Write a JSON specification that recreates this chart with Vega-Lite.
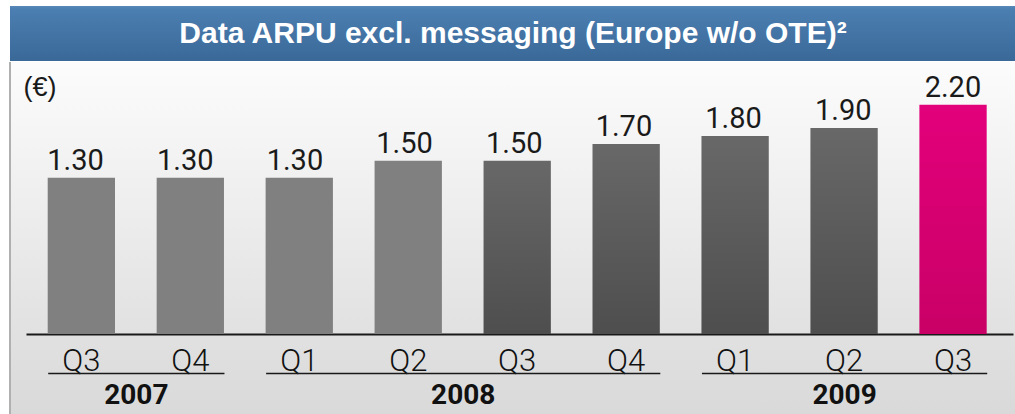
{
  "$schema": "https://vega.github.io/schema/vega-lite/v6.json",
  "padding": {"left": 9, "top": 6, "right": 0, "bottom": 0},
  "background": "white",
  "spacing": 0,
  "config": {"view": {"stroke": null}},
  "vconcat": [
    {
      "width": 1006,
      "height": 55,
      "view": {"stroke": null, "fill": {"gradient": "linear", "x1": 0, "y1": 0, "x2": 0, "y2": 1, "stops": [{"offset": 0, "color": "#5688b8"}, {"offset": 0.06, "color": "#4b7eb1"}, {"offset": 1, "color": "#3a6998"}]}},
      "data": {"values": [{"title": "Data ARPU excl. messaging (Europe w/o OTE)²"}]},
      "mark": {"type": "text", "color": "#ffffff", "font": "Liberation Sans", "fontSize": 30, "fontWeight": "bold", "baseline": "middle", "align": "center"},
      "encoding": {"text": {"field": "title"}}
    },
    {
      "width": 1006,
      "height": 353,
      "view": {"stroke": "#b0b0b0", "strokeWidth": 2, "strokeDash": [0, 2365, 353], "fill": {"gradient": "linear", "x1": 0, "y1": 0, "x2": 0, "y2": 1, "stops": [{"offset": 0, "color": "#fcfcfc"}, {"offset": 1, "color": "#d9d9d9"}]}},
      "data": {"values": [
        {"period": "2007 Q3", "year": "2007", "quarter": "Q3", "value": 1.30},
        {"period": "2007 Q4", "year": "2007", "quarter": "Q4", "value": 1.30},
        {"period": "2008 Q1", "year": "2008", "quarter": "Q1", "value": 1.30},
        {"period": "2008 Q2", "year": "2008", "quarter": "Q2", "value": 1.50},
        {"period": "2008 Q3", "year": "2008", "quarter": "Q3", "value": 1.50},
        {"period": "2008 Q4", "year": "2008", "quarter": "Q4", "value": 1.70},
        {"period": "2009 Q1", "year": "2009", "quarter": "Q1", "value": 1.80},
        {"period": "2009 Q2", "year": "2009", "quarter": "Q2", "value": 1.90},
        {"period": "2009 Q3", "year": "2009", "quarter": "Q3", "value": 2.20}
      ]},
      "layer": [
        {
          "mark": {"type": "text", "font": "Roboto", "fontSize": 29, "color": "#1a1a1a", "baseline": "alphabetic", "dy": -8},
          "encoding": {
            "x": {"field": "period", "type": "nominal", "scale": {"range": [16, 1003], "paddingInner": 0.3823, "paddingOuter": 0.2204, "align": 0.452},
                  "axis": {"orient": "bottom", "offset": -81, "title": null, "labels": false, "ticks": false, "grid": false, "domain": true, "domainColor": "#1a1a1a", "domainWidth": 2}},
            "y": {"field": "value", "type": "quantitative", "scale": {"type": "pow", "exponent": 0.73, "domain": [0, 2.78], "range": [272, 0], "nice": false},
                  "axis": {"title": "(€)", "domain": false, "ticks": false, "labels": false, "grid": false, "titleAngle": 0, "titleAlign": "left", "titleBaseline": "top", "titleX": 13, "titleY": 12, "titleFont": "Liberation Sans", "titleFontSize": 27, "titleFontWeight": "normal", "titleColor": "#1a1a1a"}},
            "text": {"field": "value", "type": "quantitative", "format": ".2f"}
          }
        },
        {
          "transform": [{"filter": "datum.year == '2007'"}],
          "mark": {"type": "bar"},
          "encoding": {
            "x": {"field": "quarter", "type": "nominal", "scale": {"range": [37.70, 213.97], "paddingInner": 0.3823, "paddingOuter": 0},
                  "axis": {"orient": "bottom", "title": "2007", "offset": -42, "ticks": false, "grid": false, "domainColor": "#1a1a1a", "domainWidth": 1.5, "labelAngle": 0, "labelBaseline": "alphabetic", "labelPadding": -3, "labelFont": "Roboto", "labelFontSize": 31, "labelFontWeight": 300, "labelColor": "#111111", "titleFont": "Roboto", "titleFontSize": 28, "titleFontWeight": "bold", "titleColor": "#111111", "titleBaseline": "top", "titlePadding": 5}},
            "y": {"field": "value", "type": "quantitative"},
            "color": {"condition": [{"test": "datum.period == '2009 Q3'", "value": {"gradient": "linear", "x1": 0, "y1": 0, "x2": 0, "y2": 1, "stops": [{"offset": 0, "color": "#e3007b"}, {"offset": 1, "color": "#c90066"}]}}, {"test": "datum.period >= '2008 Q3'", "value": {"gradient": "linear", "x1": 0, "y1": 0, "x2": 0, "y2": 1, "stops": [{"offset": 0, "color": "#686868"}, {"offset": 1, "color": "#4e4e4e"}]}}], "value": "#808080"}
          }
        },
        {
          "transform": [{"filter": "datum.year == '2008'"}],
          "mark": {"type": "bar"},
          "encoding": {
            "x": {"field": "quarter", "type": "nominal", "scale": {"range": [255.62, 649.81], "paddingInner": 0.3823, "paddingOuter": 0},
                  "axis": {"orient": "bottom", "title": "2008", "offset": -42, "ticks": false, "grid": false, "domainColor": "#1a1a1a", "domainWidth": 1.5, "labelAngle": 0, "labelBaseline": "alphabetic", "labelPadding": -3, "labelFont": "Roboto", "labelFontSize": 31, "labelFontWeight": 300, "labelColor": "#111111", "titleFont": "Roboto", "titleFontSize": 28, "titleFontWeight": "bold", "titleColor": "#111111", "titleBaseline": "top", "titlePadding": 5}},
            "y": {"field": "value", "type": "quantitative"},
            "color": {"condition": [{"test": "datum.period == '2009 Q3'", "value": {"gradient": "linear", "x1": 0, "y1": 0, "x2": 0, "y2": 1, "stops": [{"offset": 0, "color": "#e3007b"}, {"offset": 1, "color": "#c90066"}]}}, {"test": "datum.period >= '2008 Q3'", "value": {"gradient": "linear", "x1": 0, "y1": 0, "x2": 0, "y2": 1, "stops": [{"offset": 0, "color": "#686868"}, {"offset": 1, "color": "#4e4e4e"}]}}], "value": "#808080"}
          }
        },
        {
          "transform": [{"filter": "datum.year == '2009'"}],
          "mark": {"type": "bar"},
          "encoding": {
            "x": {"field": "quarter", "type": "nominal", "scale": {"range": [691.46, 976.69], "paddingInner": 0.3823, "paddingOuter": 0},
                  "axis": {"orient": "bottom", "title": "2009", "offset": -42, "ticks": false, "grid": false, "domainColor": "#1a1a1a", "domainWidth": 1.5, "labelAngle": 0, "labelBaseline": "alphabetic", "labelPadding": -3, "labelFont": "Roboto", "labelFontSize": 31, "labelFontWeight": 300, "labelColor": "#111111", "titleFont": "Roboto", "titleFontSize": 28, "titleFontWeight": "bold", "titleColor": "#111111", "titleBaseline": "top", "titlePadding": 5}},
            "y": {"field": "value", "type": "quantitative"},
            "color": {"condition": [{"test": "datum.period == '2009 Q3'", "value": {"gradient": "linear", "x1": 0, "y1": 0, "x2": 0, "y2": 1, "stops": [{"offset": 0, "color": "#e3007b"}, {"offset": 1, "color": "#c90066"}]}}, {"test": "datum.period >= '2008 Q3'", "value": {"gradient": "linear", "x1": 0, "y1": 0, "x2": 0, "y2": 1, "stops": [{"offset": 0, "color": "#686868"}, {"offset": 1, "color": "#4e4e4e"}]}}], "value": "#808080"}
          }
        }
      ],
      "resolve": {"scale": {"x": "independent"}, "axis": {"x": "independent"}}
    }
  ]
}
